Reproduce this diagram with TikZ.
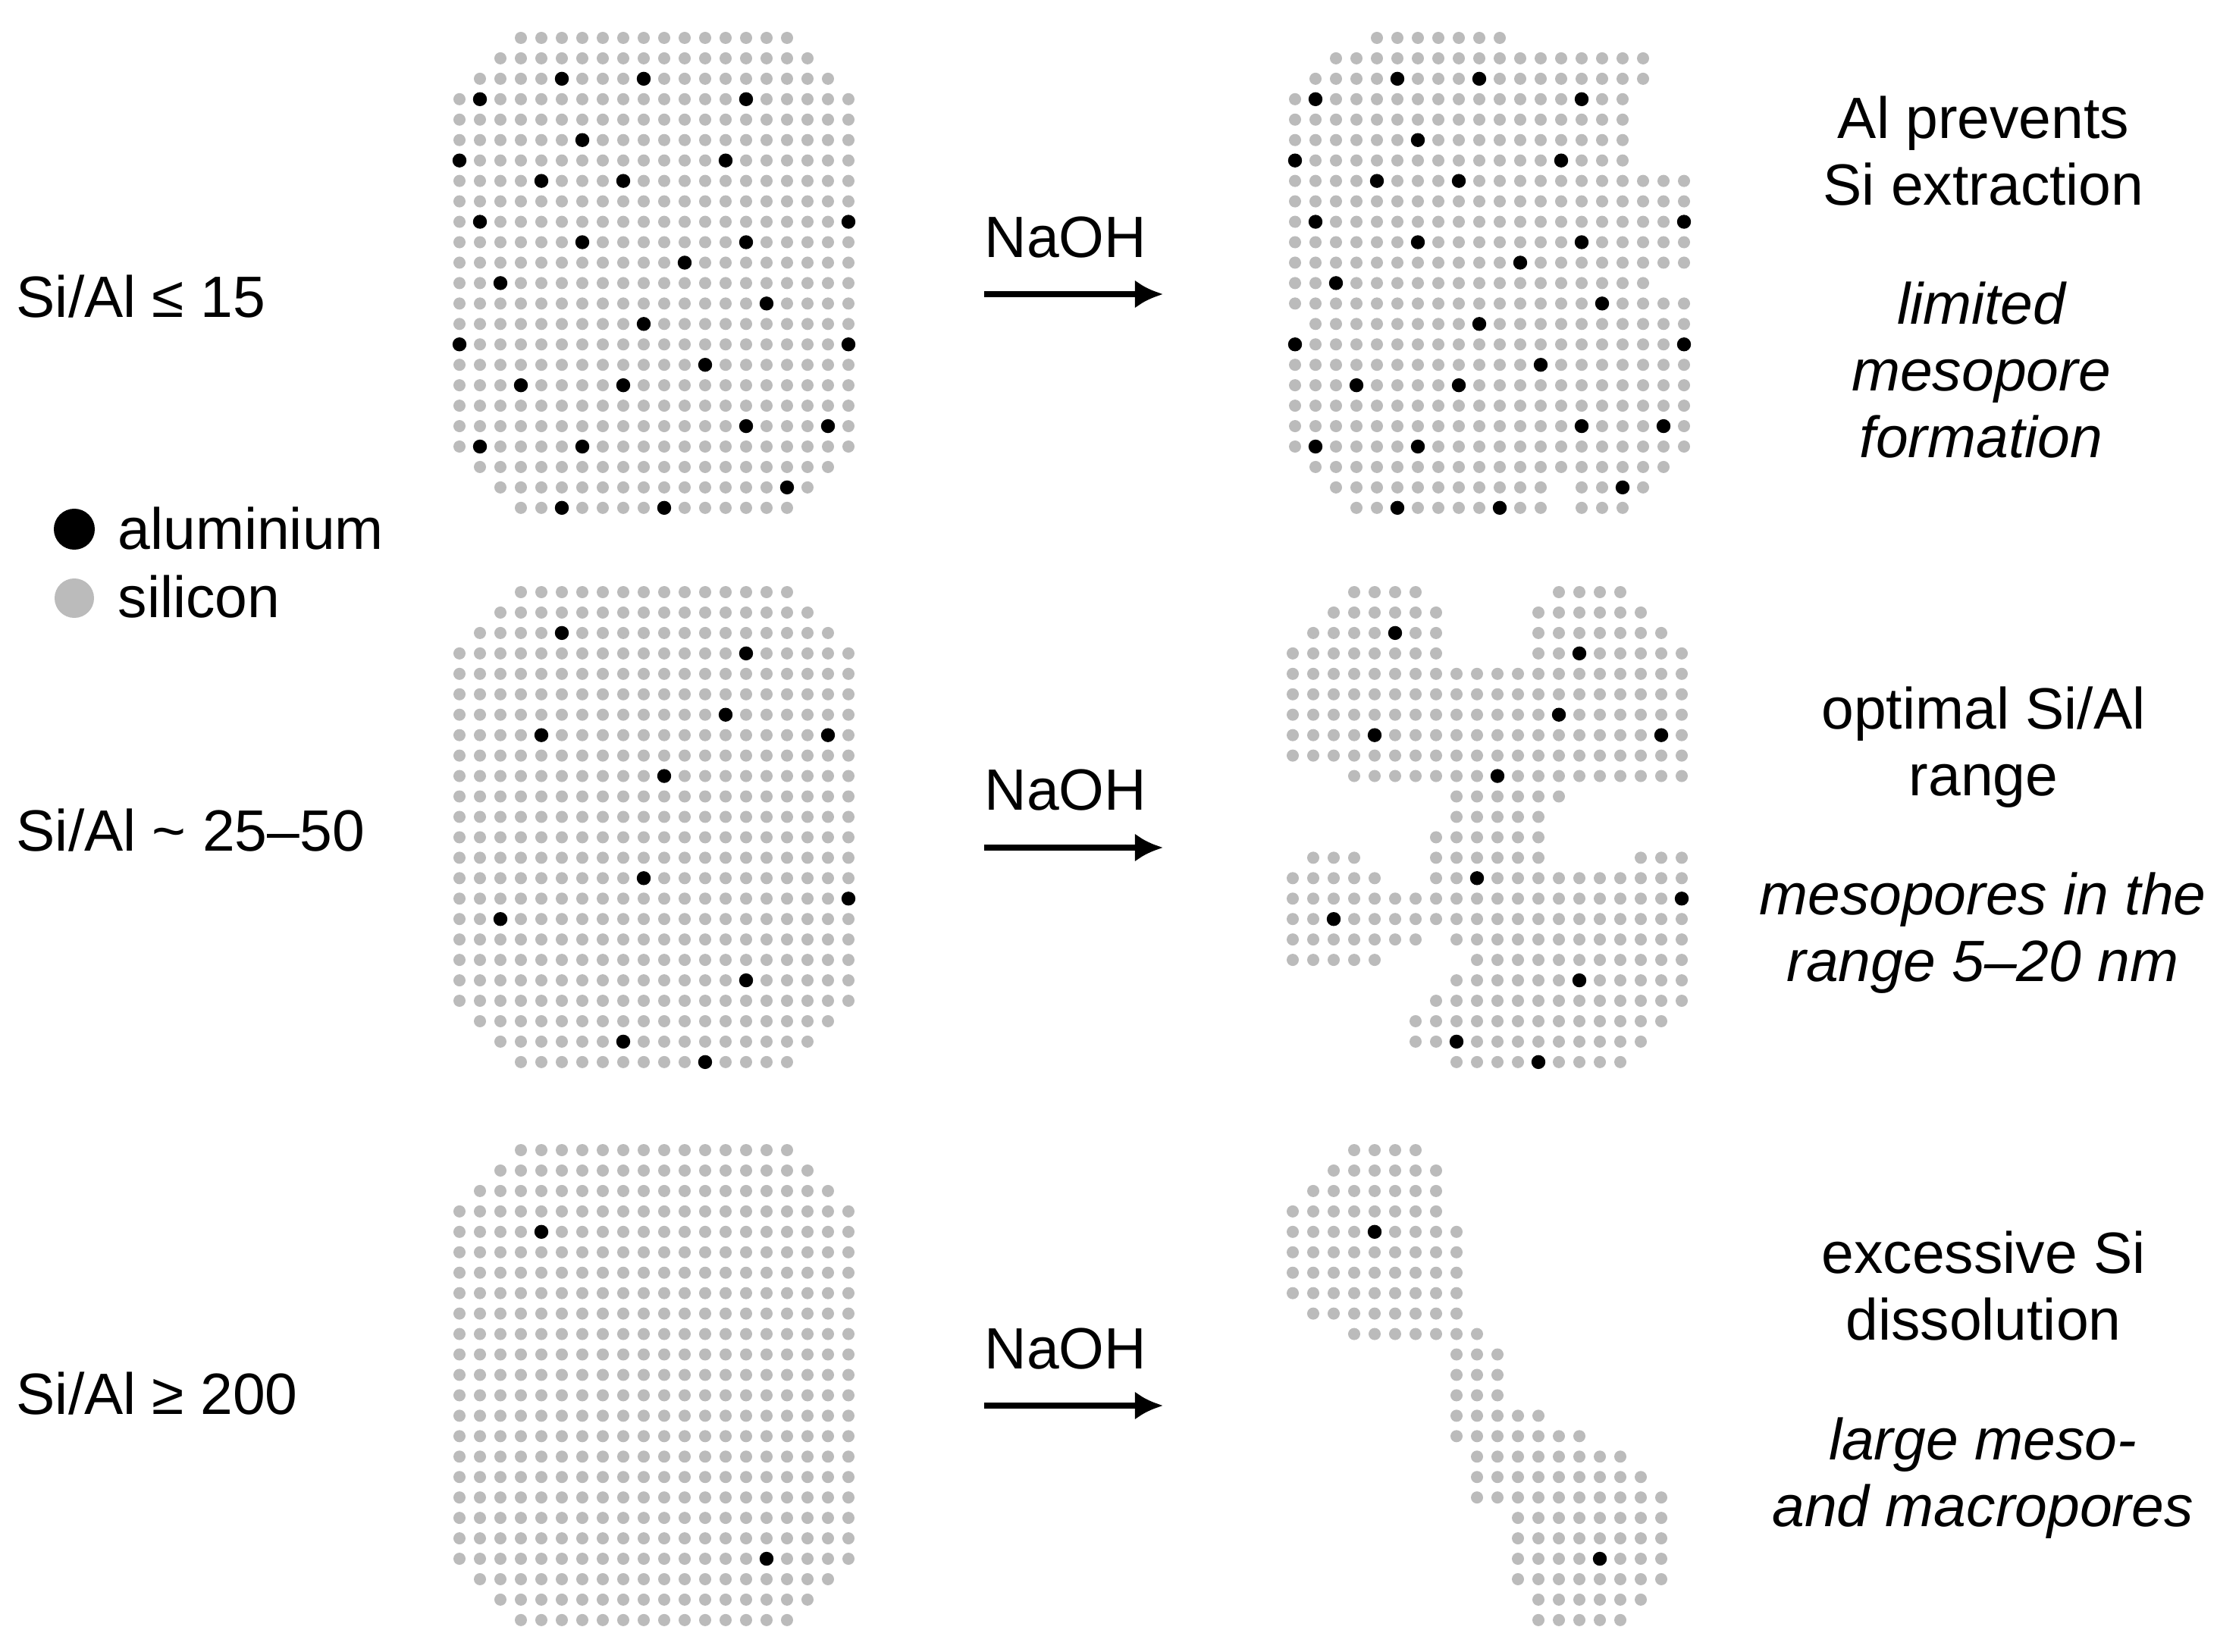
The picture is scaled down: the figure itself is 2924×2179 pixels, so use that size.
\documentclass[tikz,border=0pt]{standalone}
\usepackage{fontspec}
\usetikzlibrary{arrows.meta}
\setmainfont{Liberation Sans}
\definecolor{sigray}{HTML}{BBBBBB}

\newcommand{\spansfull}{0/{3/16},1/{2/17},2/{1/18},3/{0/19},4/{0/19},5/{0/19},6/{0/19},7/{0/19},8/{0/19},9/{0/19},10/{0/19},11/{0/19},12/{0/19},13/{0/19},14/{0/19},15/{0/19},16/{0/19},17/{0/19},18/{0/19},19/{0/19},20/{0/19},21/{1/18},22/{2/17},23/{3/16}}
\newcommand{\spanslow}{0/{4/10},1/{2/17},2/{1/17},3/{0/16},4/{0/16},5/{0/16},6/{0/16},7/{0/19},8/{0/19},9/{0/19},10/{0/19},11/{0/19},12/{0/17},13/{0/19},14/{1/19},15/{0/19},16/{0/19},17/{0/19},18/{0/19},19/{0/19},20/{0/19},21/{1/18},22/{{2/12},{14/17}},23/{{3/12},{14/16}}}
\newcommand{\spansmid}{0/{{3/6},{13/16}},1/{{2/7},{12/17}},2/{{1/7},{12/18}},3/{{0/7},{12/19}},4/{0/19},5/{0/19},6/{0/19},7/{0/19},8/{0/19},9/{3/19},10/{8/13},11/{8/12},12/{7/12},13/{{1/3},{7/12},{17/19}},14/{{0/4},{7/19}},15/{0/19},16/{0/19},17/{{0/6},{8/19}},18/{{0/4},{9/19}},19/{8/19},20/{7/19},21/{6/18},22/{6/17},23/{8/16}}
\newcommand{\spanshigh}{0/{3/6},1/{2/7},2/{1/7},3/{0/7},4/{0/8},5/{0/8},6/{0/8},7/{0/8},8/{1/8},9/{3/9},10/{8/10},11/{8/10},12/{8/10},13/{8/12},14/{8/14},15/{9/16},16/{9/17},17/{9/18},18/{11/18},19/{11/18},20/{11/18},21/{11/18},22/{12/17},23/{12/16}}
\newcommand{\allow}{5/2,9/2,1/3,14/3,6/5,0/6,13/6,4/7,8/7,1/9,19/9,6/10,14/10,11/11,2/12,15/13,9/14,0/15,19/15,12/16,3/17,8/17,14/19,18/19,1/20,6/20,16/22,5/23,10/23}
\newcommand{\almid}{5/2,14/3,13/6,4/7,18/7,10/9,9/14,19/15,2/16,14/19,8/22,12/23}
\newcommand{\alhigh}{4/4,15/20}

\newcommand{\drawlattice}[4]{
\foreach \rowno/\spans in #3 {
\foreach \first/\last in \spans {
\foreach \colno in {\first,...,\last} {
\fill[sidot] ({#1+27.0*\colno},{#2+26.95*\rowno}) circle[radius=0.08cm];
}}}
\foreach \colno/\rowno in #4 {
\fill[aldot] ({#1+27.0*\colno},{#2+26.95*\rowno}) circle[radius=0.092cm];
}}

\tikzset{
sidot/.style={fill=sigray},
aldot/.style={fill=black},
txt/.style={font=\fontsize{21.85}{25}\selectfont, inner sep=0pt, align=center},
sidelabel/.style={txt, anchor=base west},
hint/.style={txt, font=\fontsize{21.85}{25}\selectfont\itshape},
reaction/.style={->, line width=0.08cm},
}

\begin{document}
\begin{tikzpicture}[>={Latex[length=0.37cm,width=0.37cm]}, x=0.01cm, y=-0.01cm]
\useasboundingbox (0,0) rectangle (2924,2179);
\drawlattice{606}{50}{\spansfull}{\allow}
\drawlattice{1708}{50}{\spanslow}{\allow}
\drawlattice{606}{781}{\spansfull}{\almid}
\drawlattice{1705}{781}{\spansmid}{\almid}
\drawlattice{606}{1517}{\spansfull}{\alhigh}
\drawlattice{1705}{1517}{\spanshigh}{\alhigh}
\node[sidelabel] (low) at (21,419) {Si/Al ≤ 15};
\node[sidelabel] (mid) at (21,1122) {Si/Al \textasciitilde{} 25--50};
\node[sidelabel] (high) at (21,1865) {Si/Al ≥ 200};
\node[circle, fill=black, inner sep=0pt, minimum size=0.54cm] (almark) at (98,698) {};
\node[circle, fill=sigray, inner sep=0pt, minimum size=0.52cm] (simark) at (98,789) {};
\node[sidelabel] (alname) at (155,724) {aluminium};
\node[sidelabel] (siname) at (155,814) {silicon};
\coordinate (a1) at (1298,388);
\coordinate (b1) at (1534,388);
\coordinate (a2) at (1298,1118);
\coordinate (b2) at (1534,1118);
\coordinate (a3) at (1298,1854);
\coordinate (b3) at (1534,1854);
\draw[reaction] (a1) -- node[txt, above=0.44cm, pos=0.455] (naoh1) {NaOH} (b1);
\draw[reaction] (a2) -- node[txt, above=0.45cm, pos=0.455] (naoh2) {NaOH} (b2);
\draw[reaction] (a3) -- node[txt, above=0.44cm, pos=0.455] (naoh3) {NaOH} (b3);
\node[txt] (note1) at (2616,199) {Al prevents\\Si extraction};
\node[hint] (hint1) at (2613,488) {limited\\mesopore\\formation};
\node[txt] (note2) at (2616,986) {optimal Si/Al\\range};
\node[hint] (hint2) at (2615,1231) {mesopores in the\\range 5--20 nm};
\node[txt] (note3) at (2616,1696) {excessive Si\\dissolution};
\node[hint] (hint3) at (2615,1950) {large meso-\\and macropores};
\end{tikzpicture}
\end{document}
